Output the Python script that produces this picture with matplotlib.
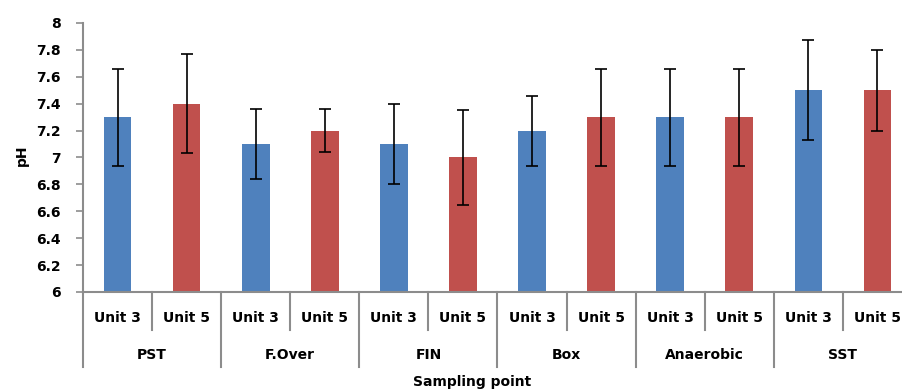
import numpy as np
import matplotlib.pyplot as plt
from matplotlib.transforms import blended_transform_factory

plt.rcParams['font.family'] = ['DejaVu Sans']
plt.rcParams['font.weight'] = 'bold'

# pH per sampling point, two units each
groups = ["PST", "F.Over", "FIN", "Box", "Anaerobic", "SST"]
units = ["Unit 3", "Unit 5"]
ph_unit3 = [7.3, 7.1, 7.1, 7.2, 7.3, 7.5]
ph_unit5 = [7.4, 7.2, 7.0, 7.3, 7.3, 7.5]
err_unit3 = [0.36, 0.26, 0.30, 0.26, 0.36, 0.37]
err_unit5 = [0.37, 0.16, 0.35, 0.36, 0.36, 0.30]
yticks = [6, 6.2, 6.4, 6.6, 6.8, 7, 7.2, 7.4, 7.6, 7.8, 8]
ytick_labels = ["6", "6.2", "6.4", "6.6", "6.8", "7", "7.2", "7.4", "7.6", "7.8", "8"]

blue = "#4F81BD"
red = "#C0504D"
grey = "#8C8C8C"

fig = plt.figure(figsize=(9.03, 3.89), dpi=100)
# plot area runs a little past the right edge of the figure
ax = fig.add_axes([0.0919, 0.2494, 0.918, 0.6915])

n = len(groups)
x3 = np.arange(n) * 2
x5 = x3 + 1
w = 0.4
ax.bar(x3, np.array(ph_unit3) - 6, bottom=6, width=w, color=blue)
ax.bar(x5, np.array(ph_unit5) - 6, bottom=6, width=w, color=red)
ax.errorbar(x3, ph_unit3, yerr=err_unit3, fmt="none", ecolor="black",
            elinewidth=1.2, capsize=4, capthick=1.2)
ax.errorbar(x5, ph_unit5, yerr=err_unit5, fmt="none", ecolor="black",
            elinewidth=1.2, capsize=4, capthick=1.2)

ax.set_xlim(-0.5, 2 * n - 0.5)
ax.set_ylim(6, 8)
ax.set_yticks(yticks)
ax.set_yticklabels(ytick_labels, fontsize=10, fontweight="bold")
ax.tick_params(axis="y", length=5, width=1.2, color=grey, pad=11)
ax.set_xticks([])

for side in ["top", "right"]:
    ax.spines[side].set_visible(False)
for side in ["left", "bottom"]:
    ax.spines[side].set_color(grey)
    ax.spines[side].set_linewidth(1.5)

# two-level category axis
tr = blended_transform_factory(ax.transData, ax.transAxes)
for b in range(2 * n):
    xb = b - 0.5
    depth = -0.279 if b % 2 == 0 else -0.141
    ax.plot([xb, xb], [0, depth], color=grey, lw=1.5, transform=tr,
            clip_on=False)
for i in range(2 * n):
    ax.text(i, -0.097, units[i % 2], transform=tr, ha="center", va="center",
            fontsize=10, fontweight="bold")
for g, name in enumerate(groups):
    ax.text(2 * g + 0.5, -0.234, name, transform=tr, ha="center",
            va="center", fontsize=10, fontweight="bold")

fig.text(472 / 903, 7 / 389, "Sampling point", ha="center", va="center",
         fontsize=10, fontweight="bold")
fig.text(22 / 903, 1 - 155 / 389, "pH", ha="center", va="center",
         rotation=90, fontsize=10, fontweight="bold")

fig.savefig("out.png", dpi=100)
